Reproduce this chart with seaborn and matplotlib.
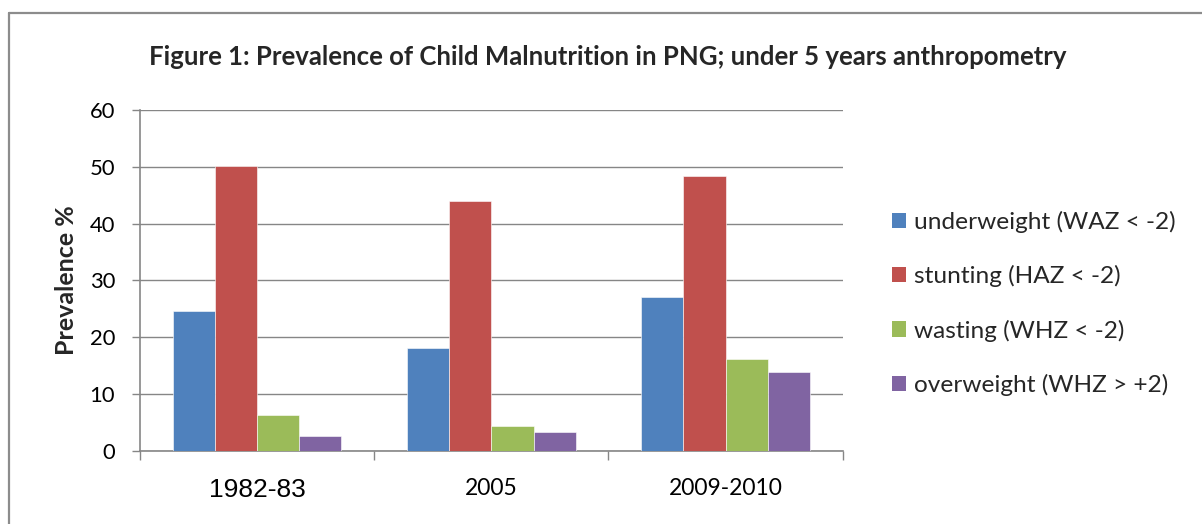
import matplotlib
matplotlib.use("Agg")
import matplotlib.pyplot as plt
from matplotlib.lines import Line2D
from matplotlib.ticker import FixedLocator, MultipleLocator
import pandas as pd
import seaborn as sns

# Survey rounds and prevalence (%) of each anthropometric indicator
periods = ["1982-83", "2005", "2009-2010"]
indicators = [
    "underweight (WAZ < -2)",
    "stunting (HAZ < -2)",
    "wasting (WHZ < -2)",
    "overweight (WHZ > +2)",
]
underweight = [24.6, 18.0, 27.1]
stunting = [50.1, 43.9, 48.3]
wasting = [6.2, 4.3, 16.2]
overweight = [2.6, 3.3, 13.8]
colors = ["#4F81BD", "#C0504D", "#9BBB59", "#8064A2"]

series = [underweight, stunting, wasting, overweight]
df = pd.DataFrame(
    [(p, ind, vals[i]) for ind, vals in zip(indicators, series) for i, p in enumerate(periods)],
    columns=["period", "indicator", "value"],
)

sns.set_style("white")
plt.rcParams["font.family"] = ["Lato", "DejaVu Sans"]

W, H = 1202, 524
fig = plt.figure(figsize=(W / 100, H / 100), dpi=100)
ax = fig.add_axes([140 / W, 1 - 450.7 / H, 702.7 / W, 340.7 / H])

grey = "#868686"
sns.barplot(
    data=df, x="period", y="value", hue="indicator",
    hue_order=indicators, order=periods,
    palette=colors, saturation=1, width=0.72,
    edgecolor="white", linewidth=0.4, ax=ax, legend=True, zorder=3,
)

ax.set_ylim(0, 60)
ax.set_xlim(-0.5, 2.5)
ax.yaxis.set_major_locator(MultipleLocator(10))
ax.grid(axis="y", color=grey, linewidth=1.0, zorder=0)
ax.set_axisbelow(True)
for side in ["top", "right"]:
    ax.spines[side].set_visible(False)
for side in ["left", "bottom"]:
    ax.spines[side].set_color(grey)
    ax.spines[side].set_linewidth(1.2)

# y ticks
ax.tick_params(axis="y", which="major", direction="out", length=6, width=1.0,
               color=grey, pad=12, labelsize=15.8, labelcolor="black", left=True)
# category boundaries as minor ticks, labels under the centres
ax.xaxis.set_minor_locator(FixedLocator([-0.5, 0.5, 1.5, 2.5]))
ax.tick_params(axis="x", which="minor", direction="out", length=6.5, width=1.0,
               color=grey, bottom=True)
ax.tick_params(axis="x", which="major", length=0, pad=20, labelsize=16.5,
               labelcolor="black")
ax.set_xlabel("")
labels = ax.get_xticklabels()
labels[0].set_fontfamily(["Liberation Sans", "DejaVu Sans"])
labels[0].set_fontsize(19)

ax.set_ylabel("Prevalence %", fontsize=18, fontweight="bold")
ax.yaxis.set_label_coords((66 - 140) / 702.7, 0.5)
ax.yaxis.label.set_verticalalignment("center")

# legend to the right of the plot
handles = [plt.Rectangle((0, 0), 1, 1, facecolor=c, edgecolor="none") for c in colors]
ax.legend(
    handles, indicators, loc="center left",
    bbox_to_anchor=(892 / W, 1 - 303.5 / H), bbox_transform=fig.transFigure,
    frameon=False, fontsize=17.6, handlelength=0.58, handleheight=0.58,
    handletextpad=0.33, labelspacing=1.32, borderpad=0, borderaxespad=0,
)

fig.text(608 / W, 1 - 57 / H,
         "Figure 1: Prevalence of Child Malnutrition in PNG; under 5 years anthropometry",
         ha="center", va="center", fontsize=18.5, fontweight="bold")

# chart frame (left and top edges)
frame_kw = dict(color="#8c8c8c", linewidth=1.6, transform=fig.transFigure)
fig.add_artist(Line2D([8.5 / W, 8.5 / W], [0, 1 - 12.5 / H], **frame_kw))
fig.add_artist(Line2D([8.5 / W, 1], [1 - 12.5 / H, 1 - 12.5 / H], **frame_kw))

fig.savefig("out.png", dpi=100)
